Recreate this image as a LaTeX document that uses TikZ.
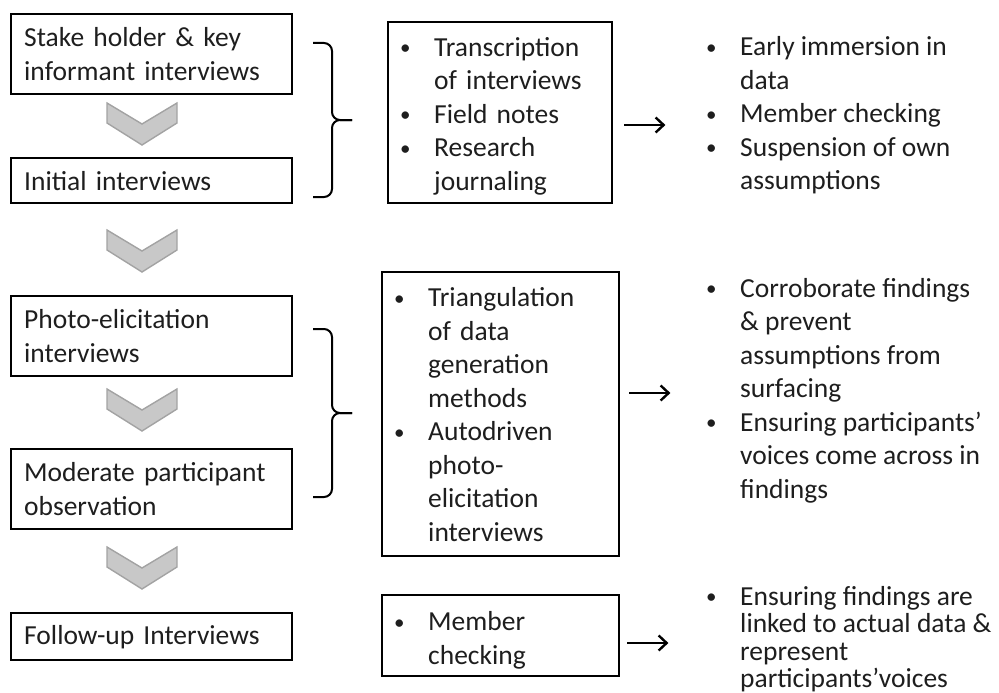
\documentclass[tikz,border=0pt]{standalone}
\usepackage{fontspec}
\setmainfont{Carlito}
\usetikzlibrary{arrows.meta}

\definecolor{chevfill}{HTML}{C8C8C8}
\definecolor{chevline}{HTML}{A3A3A3}
\definecolor{ink}{HTML}{1E1E1E}

% bullet lists as two-column tables
\newcommand{\bul}{\makebox[31pt][l]{\hspace{-3pt}\raisebox{1.5pt}{\fontsize{21}{21}\selectfont\textbullet}}}
\newenvironment{blist}{\begin{tabular}{@{}l@{}l@{}}}{\end{tabular}}

\tikzset{
  stagebox/.style={draw=black, line width=2.4pt, anchor=north west, align=left,
    text width=255pt, inner xsep=13pt, inner ysep=2pt, minimum width=281pt},
  listbox/.style={draw=black, line width=2.4pt, anchor=north west, align=left,
    inner xsep=15pt, inner ysep=0pt},
  outlist/.style={anchor=west, align=left, inner sep=0pt},
  chev/.style={fill=chevfill, draw=chevline, line width=1.4pt, line join=miter},
  curly/.style={draw=black, line width=2pt, rounded corners=8pt},
  flow/.style={line width=2.8pt, -{Straight Barb[length=8pt,width=15pt,line width=2.4pt]}}
}

\begin{document}
\begin{tikzpicture}[x=1pt, y=-1pt, text=ink, font=\fontsize{27.5}{33.5}\selectfont]
\useasboundingbox (0,0) rectangle (999,693);

% stages
\node[stagebox, minimum height=80pt] (stake) at (10,13) {Stake holder \& key\\informant interviews};
\node[stagebox, minimum height=45pt] (initial) at (10,157) {Initial interviews};
\node[stagebox, minimum height=80pt] (photo) at (10,295) {Photo-elicitation\\interviews};
\node[stagebox, minimum height=80pt] (moderate) at (10,448) {Moderate participant\\observation};
\node[stagebox, minimum height=47pt] (followup) at (10,612) {Follow-up Interviews};

% chevrons
\draw[chev] (107,103) -- ++(35,21) -- ++(35,-21) -- ++(0,20) -- ++(-35,22) -- ++(-35,-22) -- cycle;
\draw[chev] (107,230) -- ++(35,21) -- ++(35,-21) -- ++(0,20) -- ++(-35,22) -- ++(-35,-22) -- cycle;
\draw[chev] (107,389) -- ++(35,21) -- ++(35,-21) -- ++(0,20) -- ++(-35,22) -- ++(-35,-22) -- cycle;
\draw[chev] (107,547) -- ++(35,21) -- ++(35,-21) -- ++(0,20) -- ++(-35,22) -- ++(-35,-22) -- cycle;

% braces
\coordinate (brace1top) at (313,43);
\coordinate (brace1bot) at (313,197);
\coordinate (brace1tip) at (352,120);
\coordinate (brace2top) at (313,329);
\coordinate (brace2bot) at (313,497);
\coordinate (brace2tip) at (352,413);
\draw[curly] (brace1top) -- (332,43) -- (332,120) -- (brace1tip);
\draw[curly] (brace1bot) -- (332,197) -- (332,120) -- (brace1tip);
\draw[curly] (brace2top) -- (332,329) -- (332,413) -- (brace2tip);
\draw[curly] (brace2bot) -- (332,497) -- (332,413) -- (brace2tip);

% methods
\node[listbox, text width=194pt, minimum height=181pt] (rigour) at (387,21)
  {\begin{blist}\bul\rule{0pt}{31.5pt} & Transcription\\ & of interviews\\ \bul & Field notes\\ \bul & Research\\ & journaling\end{blist}};
\node[listbox, text width=207pt, minimum height=284pt] (triang) at (381,271)
  {\begin{blist}\bul\rule{0pt}{29.5pt} & Triangulation\\ & of data\\ & generation\\ & methods\\
   \bul & Autodriven\\ & photo-\\ & elicitation\\ & interviews\end{blist}};
\node[listbox, text width=207pt, minimum height=81pt] (check) at (381,594)
  {\begin{blist}\bul\rule{0pt}{33.5pt} & Member\\ & checking\end{blist}};

% outcomes
\node[outlist] (early) at (709,116)
  {\begin{blist}\bul & Early immersion in\\ & data\\ \bul & Member checking\\ \bul & Suspension of own\\ & assumptions\end{blist}};
\node[outlist] (corrob) at (709,391)
  {\begin{blist}\bul & Corroborate findings\\ & \& prevent\\ & assumptions from\\ & surfacing\\
   \bul & Ensuring participants'\\ & voices come across in\\ & findings\end{blist}};
\node[outlist, font=\fontsize{27.5}{27.5}\selectfont] (linked) at (709,641)
  {\begin{blist}\bul & Ensuring findings are\\ & linked to actual data \&\\ & represent\\ & participants'voices\end{blist}};

% arrows
\draw[flow] ([xshift=11pt]rigour.east |- 0,125) -- ++(41,0);
\draw[flow] ([xshift=9pt]triang.east |- 0,393) -- ++(41,0);
\draw[flow] ([xshift=7pt]check.east |- 0,643) -- ++(41,0);
\end{tikzpicture}
\end{document}
